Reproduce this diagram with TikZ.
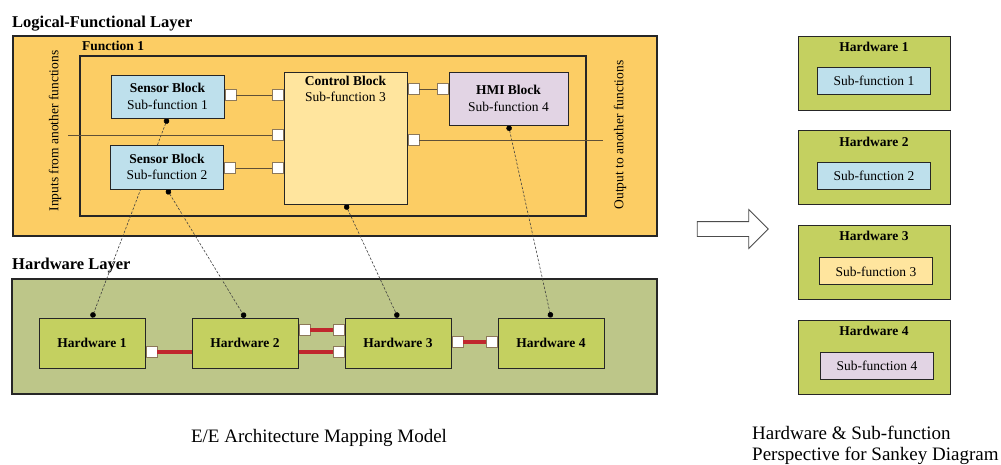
\documentclass[tikz,border=0pt]{standalone}
\usepackage{fontspec}
\setmainfont{Liberation Serif}
\usetikzlibrary{positioning,arrows.meta,shapes.arrows}

\definecolor{lflfill}{RGB}{252,205,100}
\definecolor{hwlfill}{RGB}{189,198,137}
\definecolor{hwfill}{RGB}{196,208,96}
\definecolor{sensfill}{RGB}{190,224,236}
\definecolor{ctrlfill}{RGB}{255,229,158}
\definecolor{hmifill}{RGB}{226,212,228}
\definecolor{portcol}{RGB}{140,120,90}
\definecolor{sigcol}{RGB}{95,80,55}
\definecolor{buscol}{RGB}{192,39,45}

\newcommand\blkfont{\fontsize{13.5}{16.5}\selectfont}
\newcommand\ttlfont{\fontsize{16.5}{19}\selectfont\bfseries}
\newcommand\capfont{\fontsize{19}{21}\selectfont}

\pgfdeclarelayer{bg}
\pgfdeclarelayer{links}
\pgfsetlayers{bg,links,main}

\begin{document}
\begin{tikzpicture}[x=1pt,y=-1pt,node distance=153pt,on grid,
   box/.style={draw=black!85,line width=1pt,inner sep=0pt,font=\blkfont,align=center},
   layer/.style={draw=black!85,line width=1.2pt},
   title/.style={inner sep=0pt,anchor=base west,font=\ttlfont},
   side/.style={rotate=90,inner sep=0pt,font=\blkfont},
   port/.style={draw=portcol,fill=white,line width=0.8pt,minimum size=11pt,inner sep=0pt},
   sig/.style={draw=sigcol,line width=0.8pt},
   bus/.style={draw=buscol,line width=3.5pt},
   map/.style={draw=black!75,line width=0.6pt,dash pattern=on 2.5pt off 1.6pt,
               {Circle[length=5.5pt,black]}-{Circle[length=5.5pt,black]}},
   hw/.style={box,fill=hwfill,minimum width=106pt,minimum height=50pt,font=\blkfont\bfseries},
   card/.style={box,fill=hwfill,minimum width=152pt,minimum height=74pt},
   cardtitle/.style={anchor=north,yshift=-3pt,font=\blkfont\bfseries},
   sub/.style={box,minimum width=113pt,minimum height=27pt},
   caption/.style={inner sep=0pt,font=\capfont}]
   \useasboundingbox (0,0) rectangle (1001,464);

   \begin{pgfonlayer}{bg}
   \node[layer,fill=lflfill,minimum width=644pt,minimum height=200pt] (lfl) at (335,136) {};
   \node[layer,minimum width=506pt,minimum height=160pt] (fn) at (333,136) {};
   \node[layer,fill=hwlfill,minimum width=645pt,minimum height=115pt] (hwl) at (334.5,336.5) {};
   \end{pgfonlayer}

   \node[title] (lfltitle) at (12,27) {Logical-Functional Layer};
   \node[title,font=\blkfont\bfseries] (fntitle) at (82,50) {Function 1};
   \node[side] (inputs) at (55,131) {Inputs from another functions};
   \node[side] (outputs) at (620,135) {Output to another functions};

   \node[box,fill=sensfill,minimum width=113pt,minimum height=43pt] (sb1) at (167.5,96.5) {\textbf{Sensor Block}\\Sub-function 1};
   \node[box,fill=sensfill,minimum width=113pt,minimum height=44pt] (sb2) at (167,167) {\textbf{Sensor Block}\\Sub-function 2};
   \node[box,fill=ctrlfill,minimum width=123pt,minimum height=132pt,
         label={[anchor=north,yshift=-1pt,align=center,font=\blkfont]north:{\textbf{Control Block}\\Sub-function 3}}] (ctrl) at (345.5,138) {};
   \node[box,fill=hmifill,minimum width=119pt,minimum height=53pt] (hmi) at (508.5,98.5) {\textbf{HMI Block}\\Sub-function 4};

   \node[port,anchor=west] (sb1out) at (sb1.east |- 0,95) {};
   \node[port,anchor=west] (sb2out) at (sb2.east |- 0,168) {};
   \node[port,anchor=east] (ctrlin1) at (ctrl.west |- 0,95) {};
   \node[port,anchor=east] (ctrlin2) at (ctrl.west |- 0,135) {};
   \node[port,anchor=east] (ctrlin3) at (ctrl.west |- 0,168) {};
   \node[port,anchor=west] (ctrlout1) at (ctrl.east |- 0,89) {};
   \node[port,anchor=west] (ctrlout2) at (ctrl.east |- 0,140) {};
   \node[port,anchor=east] (hmiin) at (hmi.west |- 0,89) {};
   \coordinate (infrom) at (68,135);
   \coordinate (outto) at (603,140);

   \draw[sig] (sb1out) -- (ctrlin1);
   \draw[sig] (sb2out) -- (ctrlin3);
   \draw[sig] (infrom) -- (ctrlin2);
   \draw[sig] (ctrlout1) -- (hmiin);
   \draw[sig] (ctrlout2) -- (outto);

   \node[title] (hwltitle) at (12,269) {Hardware Layer};
   \node[hw] (hw1) at (92,343) {Hardware 1};
   \node[hw,right=of hw1] (hw2) {Hardware 2};
   \node[hw,right=of hw2] (hw3) {Hardware 3};
   \node[hw,right=of hw3] (hw4) {Hardware 4};

   \node[port,anchor=west] (hw1out) at (hw1.east |- 0,352) {};
   \node[port,anchor=west] (hw2out) at (hw2.east |- 0,330) {};
   \node[port,anchor=east] (hw3ina) at (hw3.west |- 0,330) {};
   \node[port,anchor=east] (hw3inb) at (hw3.west |- 0,352) {};
   \node[port,anchor=west] (hw3out) at (hw3.east |- 0,342) {};
   \node[port,anchor=east] (hw4in) at (hw4.west |- 0,342) {};

   \draw[bus] (hw1out) -- (hw2.west |- hw1out);
   \draw[bus] (hw2out) -- (hw3ina);
   \draw[bus] (hw2.east |- hw3inb) -- (hw3inb);
   \draw[bus] (hw3out) -- (hw4in);

   \begin{pgfonlayer}{links}
   \draw[map] (sb1.south) -- (hw1.north);
   \draw[map] (sb2.south) -- (hw2.north);
   \draw[map] (ctrl.south) -- (hw3.north);
   \draw[map] (hmi.south) -- (hw4.north);
   \end{pgfonlayer}

   \node[draw=black!70,fill=white,line width=0.8pt,single arrow,inner xsep=0pt,inner ysep=7pt,
         minimum height=71pt,single arrow head extend=12pt] (maparrow) at (729,229) {};

   \node[card,label={[cardtitle]north:Hardware 1}] (card1) at (874,73) {};
   \node[card,label={[cardtitle]north:Hardware 2},below=94.7pt of card1] (card2) {};
   \node[card,label={[cardtitle]north:Hardware 3},below=94.7pt of card2] (card3) {};
   \node[card,label={[cardtitle]north:Hardware 4},below=94.7pt of card3] (card4) {};
   \node[sub,fill=sensfill,below=8pt of card1] (sub1) {Sub-function 1};
   \node[sub,fill=sensfill,below=8pt of card2] (sub2) {Sub-function 2};
   \node[sub,fill=ctrlfill,below=9pt of card3,xshift=2pt] (sub3) {Sub-function 3};
   \node[sub,fill=hmifill,below=9pt of card4,xshift=3pt] (sub4) {Sub-function 4};

   \node[caption,anchor=base] (mapcap) at (319,442) {E/E Architecture Mapping Model};
   \node[caption,anchor=north west,align=left] (sankeycap) at (752,426) {Hardware \& Sub-function\\Perspective for Sankey Diagram};
\end{tikzpicture}
\end{document}
